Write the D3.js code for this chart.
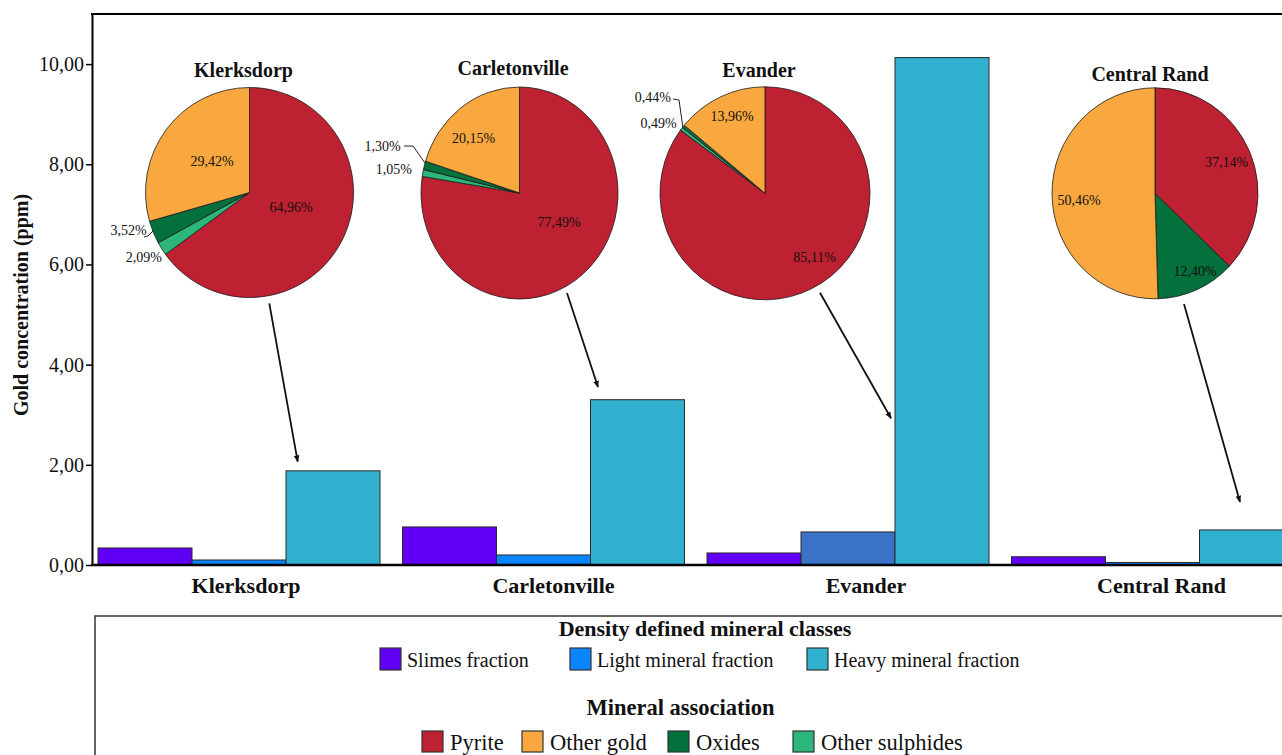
<!DOCTYPE html>
<html>
<head>
<meta charset="utf-8">
<script src="https://cdn.jsdelivr.net/npm/d3@7"></script>
<style>
  body { margin: 0; background: #fff; }
  svg { display: block; }
  text { font-family: "Liberation Serif", "Times New Roman", serif; fill: #111; }
</style>
</head>
<body>
<svg id="chart" width="1282" height="755"></svg>
<script>
// ---- data ----
const regions = ["Klerksdorp", "Carletonville", "Evander", "Central Rand"];
const fractions = ["Slimes fraction", "Light mineral fraction", "Heavy mineral fraction"];
const slimes = [0.34, 0.76, 0.24, 0.165];
const lightMineral = [0.10, 0.20, 0.66, 0.05];
const heavyMineral = [1.88, 3.30, 10.13, 0.70];
const yTicks = [0, 2, 4, 6, 8, 10];

const associations = ["Pyrite", "Other gold", "Oxides", "Other sulphides"];
const pyrite = [64.96, 77.49, 85.11, 37.14];
const otherGold = [29.42, 20.15, 13.96, 50.46];
const oxides = [3.52, 1.30, 0.44, 12.40];
const otherSulphides = [2.09, 1.05, 0.49, 0];

// ---- styles ----
const fractionColors = ["#6000F5", "#0A84FF", "#31B0D0"];
const evanderLightColor = "#3A72C8";
const assocColors = { "Pyrite": "#BE2131", "Other gold": "#F8A83F", "Oxides": "#04703C", "Other sulphides": "#2CB67A" };

const svg = d3.select("#chart");
const W = 1282;

// ---- scales ----
const y = d3.scaleLinear().domain([0, 11]).range([565, 14]);
const x = d3.scaleBand().domain(regions).range([92, 1299.5]).paddingInner(0.0739).paddingOuter(0.0197);
const xSub = d3.scaleBand().domain(fractions).range([0, x.bandwidth()]);

const seriesByFraction = [slimes, lightMineral, heavyMineral];

// ---- bars ----
const barData = [];
regions.forEach((r, i) => {
  fractions.forEach((f, j) => {
    let color = fractionColors[j];
    if (r === "Evander" && j === 1) color = evanderLightColor;
    barData.push({ region: r, fraction: f, value: seriesByFraction[j][i], color });
  });
});

svg.append("g").selectAll("rect").data(barData).join("rect")
  .attr("x", d => x(d.region) + xSub(d.fraction))
  .attr("y", d => y(d.value))
  .attr("width", xSub.bandwidth())
  .attr("height", d => y(0) - y(d.value))
  .attr("fill", d => d.color)
  .attr("stroke", "#2a2a2a")
  .attr("stroke-width", 1);

// ---- axes ----
const yAxis = d3.axisLeft(y).tickValues(yTicks).tickSize(6).tickSizeOuter(0)
  .tickFormat(d => d3.format(".2f")(d).replace(".", ","));
const gy = svg.append("g").attr("transform", "translate(92,0)").call(yAxis);
gy.select(".domain").attr("stroke", "#000").attr("stroke-width", 2);
gy.selectAll(".tick line").attr("stroke", "#000").attr("stroke-width", 1.5);
gy.selectAll(".tick text").attr("font-size", 20).attr("font-family", "Liberation Serif").attr("fill", "#111").attr("x", -8);

// top frame line
svg.append("line").attr("x1", 91).attr("x2", W).attr("y1", 14).attr("y2", 14)
  .attr("stroke", "#000").attr("stroke-width", 2);
// baseline
svg.append("line").attr("x1", 91).attr("x2", W).attr("y1", y(0)).attr("y2", y(0))
  .attr("stroke", "#000").attr("stroke-width", 2.5);

// category labels (small horizontal nudges per label)
const catLabelShift = [7, 10, 18, 9];
svg.append("g").selectAll("text").data(regions).join("text")
  .attr("x", (d, i) => x(d) + x.bandwidth() / 2 + catLabelShift[i])
  .attr("y", 593)
  .attr("text-anchor", "middle")
  .attr("font-size", 22).attr("font-weight", "bold")
  .text(d => d);

// y axis title
svg.append("text")
  .attr("transform", "translate(28,305) rotate(-90)")
  .attr("text-anchor", "middle")
  .attr("font-size", 20).attr("font-weight", "bold")
  .text("Gold concentration (ppm)");

// ---- pies ----
const pieLayout = [
  { cx: 249.5, cy: 192.5, rx: 104, ry: 105, title: [-6, -115.5] },
  { cx: 519.5, cy: 193, rx: 98.5, ry: 106, title: [-6.5, -118] },
  { cx: 765, cy: 193.3, rx: 105, ry: 106.5, title: [-6, -116.3] },
  { cx: 1155, cy: 193.3, rx: 103, ry: 105.5, title: [-5, -112.3] }
];
// label anchor points relative to pie centre, slice order: Pyrite, Other sulphides, Oxides, Other gold
const labelLayout = [
  [[41.5, 19, "middle"], [-87.5, 69, "end"], [-102.8, 42.5, "end"], [-37.5, -26.5, "middle"]],
  [[39.5, 33.5, "middle"], [-107.5, -19, "end"], [-118.8, -42, "end"], [-45.8, -50, "middle"]],
  [[49.7, 68.7, "middle"], [-88.3, -65.3, "end"], [-94, -91.3, "end"], [-33, -72.3, "middle"]],
  [[71.7, -26.3, "middle"], null, [40, 82.2, "middle"], [-76, 11.7, "middle"]]
];
// leader lines for the narrow slices (absolute points)
const leaders = [
  [[144, 237], [148, 236], [153, 231]],
  [[404, 146], [413, 146], [425, 163]],
  [[673, 99], [679, 100], [683, 128]]
];
const arrows = [
  [269.3, 303.3, 297.7, 461.7],
  [567, 293, 598, 387],
  [820, 292.7, 891, 418.3],
  [1184, 304, 1240, 502]
];

const sliceOrder = ["Pyrite", "Other sulphides", "Oxides", "Other gold"];
const pieGen = d3.pie().sort(null).value(d => d.value);

regions.forEach((r, i) => {
  const L = pieLayout[i];
  const vals = {
    "Pyrite": pyrite[i], "Other sulphides": otherSulphides[i],
    "Oxides": oxides[i], "Other gold": otherGold[i]
  };
  const slices = sliceOrder.map(k => ({ key: k, value: vals[k] }));
  const arcs = pieGen(slices);
  const arc = d3.arc().innerRadius(0).outerRadius(L.ry);
  const g = svg.append("g")
    .attr("transform", `translate(${L.cx},${L.cy}) scale(${L.rx / L.ry},1)`);
  g.selectAll("path").data(arcs.filter(a => a.data.value > 0)).join("path")
    .attr("d", arc)
    .attr("fill", d => assocColors[d.data.key])
    .attr("stroke", "#1a1a1a")
    .attr("stroke-width", 0.8)
    .attr("vector-effect", "non-scaling-stroke");

  // title
  svg.append("text")
    .attr("x", L.cx + L.title[0]).attr("y", L.cy + L.title[1])
    .attr("text-anchor", "middle").attr("font-size", 20).attr("font-weight", "bold")
    .text(r);

  // percentage labels
  arcs.forEach((a, k) => {
    const pos = labelLayout[i][k];
    if (!pos || a.data.value <= 0) return;
    svg.append("text")
      .attr("x", L.cx + pos[0]).attr("y", L.cy + pos[1])
      .attr("text-anchor", pos[2])
      .attr("font-size", 14)
      .text(d3.format(".2f")(a.data.value).replace(".", ",") + "%");
  });
});

const line = d3.line();
svg.append("g").selectAll("path").data(leaders).join("path")
  .attr("d", d => line(d)).attr("fill", "none").attr("stroke", "#222").attr("stroke-width", 1);

// arrows
svg.append("defs").append("marker")
  .attr("id", "arrowHead").attr("viewBox", "0 0 10 10").attr("refX", 9).attr("refY", 5)
  .attr("markerWidth", 7).attr("markerHeight", 7).attr("markerUnits", "userSpaceOnUse")
  .attr("orient", "auto")
  .append("path").attr("d", "M0,1 L10,5 L0,9 Z").attr("fill", "#111");
svg.append("g").selectAll("line").data(arrows).join("line")
  .attr("x1", d => d[0]).attr("y1", d => d[1]).attr("x2", d => d[2]).attr("y2", d => d[3])
  .attr("stroke", "#111").attr("stroke-width", 1.8).attr("marker-end", "url(#arrowHead)");

// ---- legend ----
const lg = svg.append("g");
lg.append("path").attr("d", `M95,755 V616 H${W}`).attr("fill", "none")
  .attr("stroke", "#333").attr("stroke-width", 1.5);

lg.append("text").attr("x", 705).attr("y", 636).attr("text-anchor", "middle")
  .attr("font-size", 22).attr("font-weight", "bold").text("Density defined mineral classes");
lg.append("text").attr("x", 680.5).attr("y", 715).attr("text-anchor", "middle")
  .attr("font-size", 22.5).attr("font-weight", "bold").text("Mineral association");

const row1X = [380, 570, 807];
const row1 = lg.append("g").selectAll("g").data(fractions).join("g")
  .attr("transform", (d, j) => `translate(${row1X[j]},648)`);
row1.append("rect").attr("width", 21).attr("height", 22)
  .attr("fill", (d, j) => fractionColors[j]).attr("stroke", "#333").attr("stroke-width", 1.2);
row1.append("text").attr("x", 27).attr("y", 19).attr("font-size", 20).text(d => d);

const row2X = [422, 522, 668, 793];
const row2 = lg.append("g").selectAll("g").data(associations).join("g")
  .attr("transform", (d, j) => `translate(${row2X[j]},731)`);
row2.append("rect").attr("width", 21).attr("height", 21)
  .attr("fill", d => assocColors[d]).attr("stroke", "#333").attr("stroke-width", 1.2);
row2.append("text").attr("x", 28).attr("y", 19).attr("font-size", 22.5).text(d => d);
</script>
</body>
</html>
